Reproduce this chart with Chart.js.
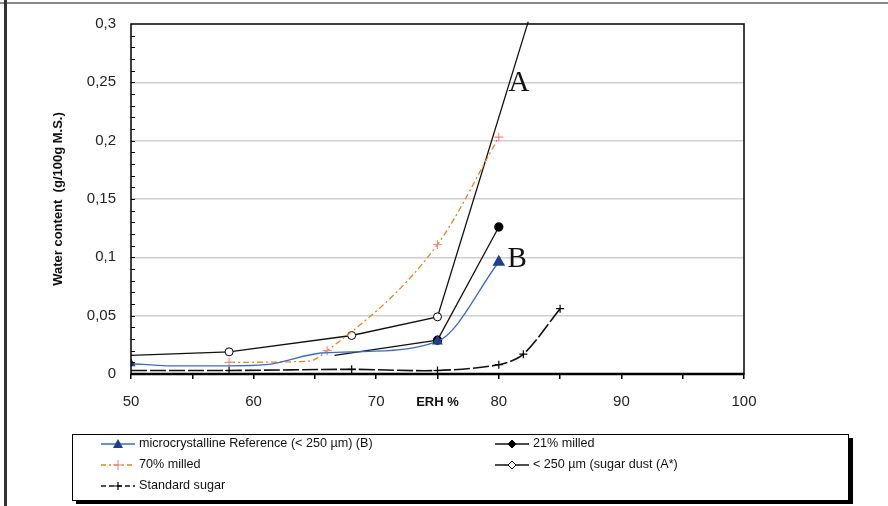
<!DOCTYPE html>
<html>
<head>
<meta charset="utf-8">
<script src="https://cdn.jsdelivr.net/npm/chart.js@4/dist/chart.umd.min.js"></script>
<style>
  html, body { margin: 0; padding: 0; background: #fff; }
  #wrap { width: 888px; height: 506px; position: relative; }
</style>
</head>
<body>
<div id="wrap"><canvas id="c" width="888" height="506"></canvas></div>
<script>
// data (x = ERH %, y = water content)
const microX = [50, 53, 58, 61, 65.5, 68, 75, 80];
const microY = [0.009, 0.007, 0.007, 0.008, 0.018, 0.019, 0.028, 0.096];
const milled21X = [66.6, 75, 80];
const milled21Y = [0.016, 0.029, 0.126];
const milled70X = [58, 64.5, 66, 75, 80];
const milled70Y = [0.010, 0.011, 0.020, 0.111, 0.203];
const dustX = [50, 58, 68, 75, 82.4];
const dustY = [0.016, 0.019, 0.033, 0.049, 0.302];
const standardX = [50, 58, 68, 75, 80, 82, 85];
const standardY = [0.003, 0.003, 0.004, 0.003, 0.008, 0.017, 0.056];

const xTicks = [50, 60, 70, 80, 90, 100];
const yTicks = [0, 0.05, 0.1, 0.15, 0.2, 0.25, 0.3];

const pts = (xs, ys) => xs.map((x, i) => ({ x: x, y: ys[i] }));

const datasets = [
  {
    label: 'microcrystalline Reference (< 250 µm) (B)',
    data: pts(microX, microY),
    borderColor: '#3a6cc4', borderWidth: 1.3,
    pointStyle: 'triangle', pointBackgroundColor: '#1c3f8e', pointBorderColor: '#1c3f8e',
    pointRadius: [4, 0, 0, 0, 0, 0, 5, 6], legendRadius: 5,
    tension: 0.4, cubicInterpolationMode: 'monotone'
  },
  {
    label: '21% milled',
    data: pts(milled21X, milled21Y),
    borderColor: '#111', borderWidth: 1.3,
    pointStyle: 'circle', pointBackgroundColor: '#000', pointBorderColor: '#000',
    pointRadius: [0, 4, 4], legendStyle: 'rectRot', legendRadius: 4,
    tension: 0
  },
  {
    label: '70% milled',
    data: pts(milled70X, milled70Y),
    borderColor: '#f0821e', borderWidth: 1.3, borderDash: [6, 3, 2, 3],
    pointStyle: 'cross', pointBorderColor: '#f08a8a', pointBorderWidth: 1.1,
    pointRadius: [4.5, 0, 4.5, 4.5, 4.5], legendRadius: 5,
    tension: 0.4, cubicInterpolationMode: 'monotone'
  },
  {
    label: '< 250 µm (sugar dust (A*)',
    data: pts(dustX, dustY),
    borderColor: '#111', borderWidth: 1.3,
    pointStyle: 'circle', pointBackgroundColor: '#fff', pointBorderColor: '#000', pointBorderWidth: 1,
    pointRadius: [0, 4, 4, 4, 0], legendStyle: 'rectRot', legendRadius: 4,
    tension: 0, clip: 6
  },
  {
    label: 'Standard sugar',
    data: pts(standardX, standardY),
    borderColor: '#111', borderWidth: 1.6, borderDash: [16, 3],
    pointStyle: 'cross', pointBorderColor: '#000', pointBorderWidth: 1.2,
    pointRadius: [0, 4, 4, 4, 4, 4, 4], legendRadius: 4,
    tension: 0.3
  }
];

const legendCells = [
  { ds: 0, x: 101, y: 444 }, { ds: 1, x: 495, y: 444 },
  { ds: 2, x: 101, y: 465 }, { ds: 3, x: 495, y: 465 },
  { ds: 4, x: 101, y: 486 }
];

function drawMarker(ctx, style, x, y, r, fill, stroke, lw) {
  ctx.save();
  ctx.fillStyle = fill || stroke;
  ctx.strokeStyle = stroke;
  ctx.lineWidth = lw || 1;
  ctx.setLineDash([]);
  ctx.beginPath();
  if (style === 'triangle') {
    ctx.moveTo(x, y - r); ctx.lineTo(x + r, y + r * 0.8); ctx.lineTo(x - r, y + r * 0.8); ctx.closePath();
    ctx.fill();
  } else if (style === 'cross') {
    ctx.moveTo(x - r, y); ctx.lineTo(x + r, y); ctx.moveTo(x, y - r); ctx.lineTo(x, y + r);
    ctx.stroke();
  } else if (style === 'rectRot') {
    ctx.moveTo(x, y - r); ctx.lineTo(x + r, y); ctx.lineTo(x, y + r); ctx.lineTo(x - r, y); ctx.closePath();
    ctx.fill(); ctx.stroke();
  } else {
    ctx.arc(x, y, r, 0, Math.PI * 2);
    ctx.fill(); ctx.stroke();
  }
  ctx.restore();
}

const decor = {
  id: 'decor',
  beforeDraw(chart) {
    const ctx = chart.ctx;
    ctx.save();
    ctx.fillStyle = '#fff';
    ctx.fillRect(0, 0, chart.width, chart.height);
    ctx.restore();
  },
  afterDatasetsDraw(chart) {
    const { ctx, chartArea: a, scales: { x, y } } = chart;
    ctx.save();
    // plot frame
    ctx.strokeStyle = '#000';
    ctx.lineWidth = 1.5;
    ctx.strokeRect(a.left, a.top, a.right - a.left, a.bottom - a.top);
    ctx.lineWidth = 2.5;
    ctx.beginPath(); ctx.moveTo(a.left, a.bottom); ctx.lineTo(a.right, a.bottom); ctx.stroke();
    // minor ticks inside left axis
    ctx.lineWidth = 1;
    for (let i = 1; i < 30; i++) {
      const py = Math.round(y.getPixelForValue(i / 100)) + 0.5;
      ctx.beginPath(); ctx.moveTo(a.left, py); ctx.lineTo(a.left + 4, py); ctx.stroke();
    }
    // curve labels
    ctx.fillStyle = '#111';
    ctx.font = '29px "Liberation Serif", serif';
    ctx.textBaseline = 'alphabetic';
    ctx.fillText('A', x.getPixelForValue(80.8), y.getPixelForValue(0.243));
    ctx.fillText('B', x.getPixelForValue(80.7), y.getPixelForValue(0.0915));
    ctx.restore();
  },
  afterDraw(chart) {
    const ctx = chart.ctx;
    ctx.save();
    // page frame
    ctx.strokeStyle = '#888';
    ctx.lineWidth = 2;
    ctx.beginPath(); ctx.moveTo(0, 3); ctx.lineTo(888, 3); ctx.stroke();
    ctx.strokeStyle = '#333';
    ctx.lineWidth = 3;
    ctx.beginPath(); ctx.moveTo(5.5, 0); ctx.lineTo(5.5, 506); ctx.stroke();
    // legend box with shadow
    ctx.fillStyle = '#000';
    ctx.fillRect(76, 438, 777, 66);
    ctx.fillStyle = '#fff';
    ctx.fillRect(72, 434, 776, 66);
    ctx.strokeStyle = '#000';
    ctx.lineWidth = 1;
    ctx.strokeRect(72.5, 434.5, 776, 66);
    ctx.font = '12.6px "Liberation Sans", Arial, sans-serif';
    ctx.textBaseline = 'middle';
    legendCells.forEach(c => {
      const ds = chart.data.datasets[c.ds];
      ctx.strokeStyle = ds.borderColor;
      ctx.lineWidth = 1.3;
      ctx.setLineDash(ds.borderDash ? [5, 3, 2, 3].slice(0, ds.borderDash.length) : []);
      ctx.beginPath(); ctx.moveTo(c.x, c.y); ctx.lineTo(c.x + 34, c.y); ctx.stroke();
      ctx.setLineDash([]);
      drawMarker(ctx, ds.legendStyle || ds.pointStyle, c.x + 17, c.y, ds.legendRadius,
        ds.pointBackgroundColor, ds.pointBorderColor, ds.pointBorderWidth);
      ctx.fillStyle = '#111';
      ctx.fillText(ds.label, c.x + 38, c.y);
    });
    ctx.restore();
  }
};

new Chart(document.getElementById('c'), {
  type: 'line',
  data: { datasets: datasets },
  options: {
    responsive: false,
    animation: false,
    layout: { padding: { left: 0, top: 19, right: 144, bottom: 92 } },
    plugins: { legend: { display: false }, tooltip: { enabled: false } },
    elements: { point: { hoverRadius: 0 } },
    scales: {
      x: {
        type: 'linear', min: 50, max: 100,
        afterFit: s => { s.height = 40; },
        afterBuildTicks: s => { s.ticks = [50, 55, 60, 65, 70, 75, 80, 85, 90, 95, 100].map(v => ({ value: v })); },
        ticks: {
          color: '#222', padding: 14, maxRotation: 0, autoSkip: false,
          font: { family: '"Liberation Sans", Arial, sans-serif', size: 15 },
          callback: v => xTicks.includes(v) ? String(v) : ''
        },
        grid: { drawOnChartArea: false, tickLength: 5, tickColor: '#000', lineWidth: 1.5 },
        border: { display: false },
        title: {
          display: true, text: 'ERH %', color: '#111',
          font: { family: '"Liberation Sans", Arial, sans-serif', size: 13, weight: 'bold' },
          padding: { top: 0, bottom: 4 }
        }
      },
      y: {
        type: 'linear', min: 0, max: 0.3,
        afterFit: s => { s.width = 131; },
        afterBuildTicks: s => { s.ticks = yTicks.map(v => ({ value: v })); },
        ticks: {
          color: '#222', padding: 15,
          font: { family: '"Liberation Sans", Arial, sans-serif', size: 15 },
          callback: v => String(+v.toFixed(2)).replace('.', ',')
        },
        grid: {
          color: c => (c.tick && c.tick.value > 0 && c.tick.value < 0.3) ? '#cfcfcf' : 'rgba(0,0,0,0)',
          lineWidth: 1.5, drawTicks: false
        },
        border: { display: false },
        title: {
          display: true, text: 'Water content  (g/100g M.S.)', color: '#111',
          font: { family: '"Liberation Sans", Arial, sans-serif', size: 13, weight: 'bold' },
          padding: { top: 51, bottom: 0 }
        }
      }
    }
  },
  plugins: [decor]
});
</script>
</body>
</html>
